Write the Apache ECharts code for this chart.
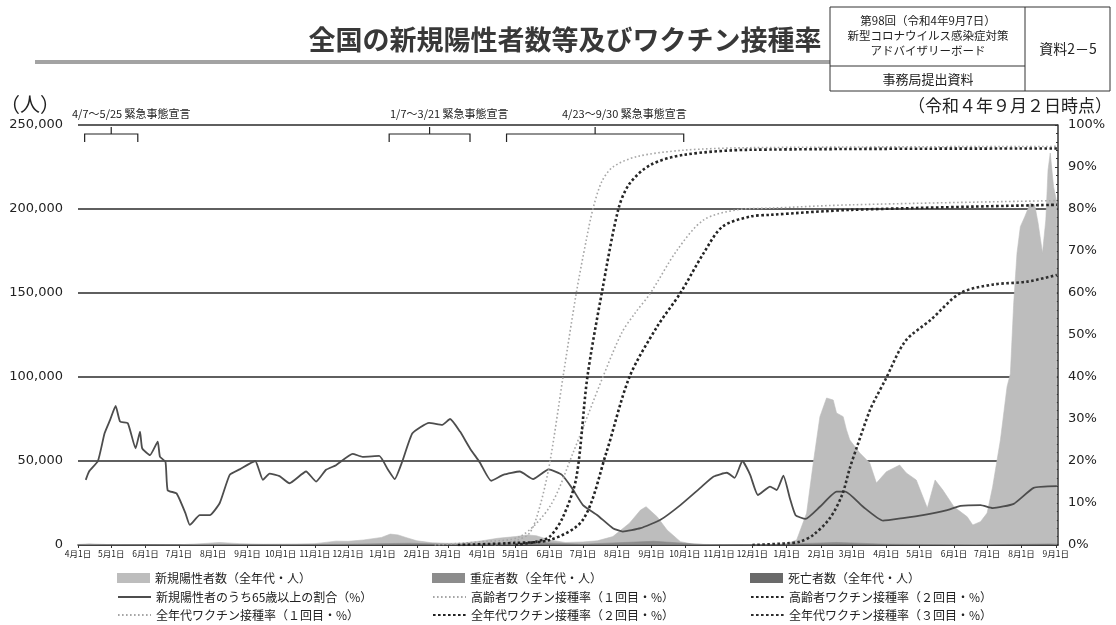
<!DOCTYPE html>
<html><head><meta charset="utf-8">
<script src="https://cdn.jsdelivr.net/npm/echarts@6/dist/echarts.min.js"></script>
<style>html,body{margin:0;padding:0;background:#fff}#c{width:1116px;height:625px}</style>
</head><body><div id="c"></div><script>
// ---- data ----
const newCases = [['2020-04-01',300],['2020-04-11',700],['2020-05-01',200],['2020-06-01',40],['2020-07-01',150],['2020-07-20',700],['2020-08-07',1500],['2020-08-25',800],['2020-09-15',500],['2020-10-15',600],['2020-11-01',800],['2020-11-20',2300],['2020-12-01',2200],['2020-12-15',3000],['2020-12-31',4500],['2021-01-08',6500],['2021-01-15',6000],['2021-01-22',4500],['2021-02-01',2500],['2021-02-15',1300],['2021-03-01',1000],['2021-03-15',1200],['2021-04-01',2500],['2021-04-15',4000],['2021-05-01',5000],['2021-05-12',6000],['2021-05-20',5500],['2021-06-01',3000],['2021-06-15',1500],['2021-07-01',1800],['2021-07-14',2500],['2021-07-28',5000],['2021-08-12',13000],['2021-08-22',20800],['2021-08-27',22800],['2021-09-06',16800],['2021-09-15',8900],['2021-09-27',2000],['2021-10-08',500],['2021-11-01',200],['2021-12-01',120],['2021-12-31',500],['2022-01-10',3000],['2022-01-19',19000],['2022-01-25',48800],['2022-01-31',76400],['2022-02-06',87500],['2022-02-12',86300],['2022-02-15',78600],['2022-02-21',76400],['2022-02-24',68500],['2022-02-27',62500],['2022-03-08',54800],['2022-03-17',48800],['2022-03-23',36900],['2022-04-01',43600],['2022-04-13',47600],['2022-04-19',42900],['2022-04-28',38700],['2022-05-08',22000],['2022-05-15',38700],['2022-05-22',32700],['2022-06-01',22800],['2022-06-13',16800],['2022-06-18',11900],['2022-06-25',13900],['2022-07-01',19000],['2022-07-06',34700],['2022-07-13',62500],['2022-07-19',94200],['2022-07-22',102000],['2022-07-25',144000],['2022-07-28',173800],['2022-07-31',189500],['2022-08-04',195400],['2022-08-09',203600],['2022-08-13',202400],['2022-08-16',191700],['2022-08-20',173800],['2022-08-23',193500],['2022-08-25',223200],['2022-08-27',233300],['2022-08-30',213300],['2022-09-02',203600]];
const severe = [['2020-04-01',100],['2020-05-01',320],['2020-06-01',100],['2020-07-01',40],['2020-08-20',260],['2020-10-01',150],['2020-12-01',500],['2021-01-25',1040],['2021-03-10',350],['2021-05-25',1400],['2021-07-01',500],['2021-09-03',2200],['2021-10-20',200],['2021-12-10',50],['2022-02-15',1500],['2022-04-01',500],['2022-06-20',60],['2022-08-25',630],['2022-09-02',590]];
const deaths = [['2020-04-01',5],['2020-05-01',30],['2020-06-01',5],['2020-08-25',15],['2020-12-20',50],['2021-01-27',110],['2021-03-15',30],['2021-05-20',110],['2021-07-15',10],['2021-09-05',60],['2021-11-01',2],['2022-02-20',270],['2022-04-15',50],['2022-07-01',10],['2022-08-27',320],['2022-09-02',250]];
const ratio65 = [['2020-04-08',15.5],['2020-04-11',17.5],['2020-04-19',20],['2020-04-25',26.6],['2020-04-30',29.8],['2020-05-05',33.1],['2020-05-09',29.4],['2020-05-16',29],['2020-05-23',23],['2020-05-27',27],['2020-05-29',23],['2020-06-05',21.4],['2020-06-12',24.6],['2020-06-14',21],['2020-06-19',19.8],['2020-06-21',13],['2020-06-29',12.3],['2020-07-07',7.6],['2020-07-11',4.8],['2020-07-20',7.1],['2020-07-29',7.1],['2020-08-07',10],['2020-08-16',16.7],['2020-08-25',18],['2020-09-08',20],['2020-09-15',15.5],['2020-09-21',17],['2020-09-30',16.4],['2020-10-09',14.7],['2020-10-24',17.5],['2020-11-02',15.1],['2020-11-11',17.9],['2020-11-20',19],['2020-12-05',21.7],['2020-12-14',21],['2020-12-29',21.2],['2021-01-06',17.9],['2021-01-12',15.7],['2021-01-19',20],['2021-01-28',26.6],['2021-02-12',29.1],['2021-02-24',28.6],['2021-03-03',30],['2021-03-12',27],['2021-03-21',23],['2021-03-30',19.6],['2021-04-09',15.3],['2021-04-20',16.7],['2021-05-05',17.5],['2021-05-17',15.7],['2021-05-31',18],['2021-06-12',16.7],['2021-06-21',13.6],['2021-07-01',9.5],['2021-07-14',7.1],['2021-07-28',4],['2021-08-06',3.2],['2021-08-22',4],['2021-09-09',6],['2021-09-27',9.5],['2021-10-15',13.6],['2021-10-27',16.3],['2021-11-08',17.2],['2021-11-15',16],['2021-11-22',20],['2021-11-29',16.7],['2021-12-06',11.9],['2021-12-17',13.9],['2021-12-23',13.1],['2021-12-29',16.5],['2022-01-04',11],['2022-01-09',7.1],['2022-01-18',6.2],['2022-01-31',9.1],['2022-02-15',12.7],['2022-02-23',12.7],['2022-03-11',9.1],['2022-03-29',5.8],['2022-04-16',6.4],['2022-05-04',7.1],['2022-05-26',8.3],['2022-06-07',9.3],['2022-06-25',9.5],['2022-07-06',8.8],['2022-07-25',9.8],['2022-08-12',13.6],['2022-09-02',14]];
const elderly1 = [['2021-04-12',0],['2021-05-01',1],['2021-05-14',2.9],['2021-05-23',9.1],['2021-06-01',19.5],['2021-06-13',40],['2021-06-25',60],['2021-07-04',72.6],['2021-07-10',80],['2021-07-18',86.5],['2021-07-28',90],['2021-08-19',92.5],['2021-09-30',94],['2021-11-29',94.6],['2022-09-02',94.9]];
const elderly2 = [['2021-05-01',0],['2021-05-20',0.8],['2021-06-01',2],['2021-06-13',6.7],['2021-06-25',16],['2021-07-05',40],['2021-07-18',60],['2021-08-02',80],['2021-08-12',86],['2021-08-31',90.5],['2021-09-30',92.9],['2021-11-29',94.1],['2022-09-02',94.4]];
const all1 = [['2021-02-17',0],['2021-04-01',0.8],['2021-05-05',2],['2021-06-01',9.1],['2021-06-22',21.9],['2021-07-19',40],['2021-08-05',50.5],['2021-08-17',55.2],['2021-08-31',60],['2021-09-24',70.2],['2021-10-18',77.4],['2021-11-17',79.8],['2021-12-17',80.2],['2022-03-01',81],['2022-09-02',82]];
const all2 = [['2021-03-10',0],['2021-05-01',0.5],['2021-06-01',1.2],['2021-07-01',6],['2021-07-22',21.9],['2021-08-12',40],['2021-09-06',52],['2021-09-27',60],['2021-10-18',69.5],['2021-11-04',75.8],['2021-11-29',78.2],['2021-12-17',78.6],['2022-03-01',79.8],['2022-09-02',81]];
const all3 = [['2021-12-01',0],['2022-01-01',0.4],['2022-01-13',0.8],['2022-01-25',2.4],['2022-02-09',6.4],['2022-02-20',11.9],['2022-02-27',18.3],['2022-03-06',23.8],['2022-03-17',32],['2022-03-23',35.3],['2022-03-31',39.3],['2022-04-18',48.5],['2022-05-11',53.6],['2022-06-07',60],['2022-07-06',62],['2022-08-06',62.7],['2022-09-02',64.3]];
const declarations = [['2020-04-07','2020-05-25','4/7～5/25 緊急事態宣言'],['2021-01-07','2021-03-21','1/7～3/21 緊急事態宣言'],['2021-04-23','2021-09-30','4/23～9/30 緊急事態宣言']];
const leftTicks = {min:0, max:250000, interval:50000};
const rightTicks = {min:0, max:100, interval:10};
const seriesNames = ['新規陽性者数（全年代・人）','重症者数（全年代・人）','死亡者数（全年代・人）','新規陽性者のうち65歳以上の割合（%）','高齢者ワクチン接種率（１回目・%）','高齢者ワクチン接種率（２回目・%）','全年代ワクチン接種率（１回目・%）','全年代ワクチン接種率（２回目・%）','全年代ワクチン接種率（３回目・%）'];

// ---- chart ----
const JP = '"Noto Sans CJK JP","Noto Sans",sans-serif';
const NUM = '"DejaVu Sans",sans-serif';
const chart = echarts.init(document.getElementById('c'));
const DAY = 86400000;
const areaSeries = (name, data, color, z) => ({
  name, type:'line', data, yAxisIndex:0, showSymbol:false, symbol:'none', z,
  lineStyle:{color, width:0.6}, itemStyle:{color}, areaStyle:{color, opacity:1}
});
const lineSeries = (name, data, color, width, dash, smooth, z) => ({
  name, type:'line', data, yAxisIndex:1, showSymbol:false, symbol:'none', smooth, z,
  lineStyle:{color, width, type:dash, cap:'butt'}, itemStyle:{color}
});
const legendPos = [[117,572],[432,572],[750,572],[117,591],[432,591],[750,591],[117,609],[432,609],[750,609]];
const legends = seriesNames.map((n,i)=>({
  left: legendPos[i][0], top: legendPos[i][1], itemWidth:33, itemHeight:10, itemGap:6,
  selectedMode:false, padding:0,
  textStyle:{fontFamily:JP, fontSize:12, color:'#222'},
  data:[i<3 ? {name:n, icon:'rect'} : {name:n, itemStyle:{color:'rgba(0,0,0,0)', borderWidth:0, opacity:0}}]
}));
chart.setOption({
  animation:false,
  backgroundColor:'#fff',
  grid:{left:78, right:58, top:125, bottom:80},
  legend: legends,
  xAxis:{
    type:'time', min:'2020-04-01', max:'2022-09-03',
    minInterval:28*DAY, maxInterval:31*DAY,
    axisLine:{lineStyle:{color:'#333', width:1.5}},
    axisTick:{show:true, length:3, lineStyle:{color:'#333'}},
    splitLine:{show:false},
    axisLabel:{fontFamily:JP, fontSize:8.5, color:'#222', margin:5,
      formatter:(v)=>{const d=new Date(v); return (d.getMonth()+1)+'月'+d.getDate()+'日';}}
  },
  yAxis:[
    {type:'value', min:leftTicks.min, max:leftTicks.max, interval:leftTicks.interval,
     axisLine:{show:false}, axisTick:{show:false},
     splitLine:{lineStyle:{color:'#2a2a2a', width:1.5}},
     axisLabel:{fontFamily:NUM, fontSize:13, color:'#222', margin:15,
       formatter:(v)=>v.toLocaleString('en-US')}},
    {type:'value', min:rightTicks.min, max:rightTicks.max, interval:rightTicks.interval, position:'right',
     axisLine:{show:true, lineStyle:{color:'#333', width:1.5}},
     axisTick:{show:true, length:3, inside:true, lineStyle:{color:'#333'}},
     minorTick:{show:true, splitNumber:5, length:2, lineStyle:{color:'#333'}},
     splitLine:{show:false},
     axisLabel:{fontFamily:NUM, fontSize:13, color:'#222', margin:10, formatter:'{value}%'}}
  ],
  series:[
    areaSeries(seriesNames[0], newCases, '#bdbdbd', 2),
    areaSeries(seriesNames[1], severe, '#8c8c8c', 3),
    areaSeries(seriesNames[2], deaths, '#6a6a6a', 4),
    lineSeries(seriesNames[3], ratio65, '#4d4d4d', 1.8, 'solid', 0.15, 5),
    lineSeries(seriesNames[4], elderly1, '#a6a6a6', 1.6, [1.6,2.4], 0.3, 6),
    lineSeries(seriesNames[5], elderly2, '#262626', 2.6, [2.6,2.4], 0.3, 7),
    lineSeries(seriesNames[6], all1, '#a6a6a6', 1.6, [1.6,2.4], 0.3, 6),
    lineSeries(seriesNames[7], all2, '#222', 2.6, [2.6,2.4], 0.3, 7),
    lineSeries(seriesNames[8], all3, '#2e2e2e', 2.6, [2.6,2.4], 0.3, 7)
  ]
});

// ---- decorations ----
const g = [];
const txt = (text, x, y, size, opts={}) => g.push({type:'text', x, y, z:100, silent:true,
  style:Object.assign({text, font:(opts.bold?'bold ':'')+size+'px '+JP, fill:opts.fill||'#222',
    textAlign:opts.align||'left', textVerticalAlign:'middle'}, opts.style||{})});
const line = (x1,y1,x2,y2,c='#333',w=1) => g.push({type:'line', z:100, silent:true, shape:{x1,y1,x2,y2}, style:{stroke:c, lineWidth:w}});
txt('全国の新規陽性者数等及びワクチン接種率', 565, 40, 27, {bold:true, fill:'#383838', align:'center'});
g.push({type:'rect', z:100, silent:true, shape:{x:35, y:60, width:795, height:4}, style:{fill:'#a3a3a3'}});
// header box
line(830,7,1110,7); line(830,91,1110,91); line(830,7,830,91); line(1110,7,1110,91);
line(1025,7,1025,91); line(830,66,1025,66);
txt('第98回（令和4年9月7日）', 928, 21, 11.5, {align:'center'});
txt('新型コロナウイルス感染症対策', 928, 36, 11.5, {align:'center'});
txt('アドバイザリーボード', 928, 51, 11.5, {align:'center'});
txt('事務局提出資料', 928, 79, 13, {align:'center'});
txt('資料2－5', 1068, 49, 14, {align:'center'});
txt('（人）', 0, 104, 20);
txt('（令和４年９月２日時点）', 1112, 106, 17, {align:'right'});
const declTextX = [72, 390, 562];
declarations.forEach((d,i)=>{
  const x1 = chart.convertToPixel({xAxisIndex:0}, echarts.number.parseDate(d[0]).getTime());
  const x2 = chart.convertToPixel({xAxisIndex:0}, echarts.number.parseDate(d[1]).getTime());
  const mid = (x1+x2)/2;
  g.push({type:'polyline', z:100, silent:true, shape:{points:[[x1,142],[x1,134],[x2,134],[x2,142]]}, style:{stroke:'#222', lineWidth:1.2, fill:null}});
  line(mid,134,mid,127,'#222',1.2);
  txt(d[2], declTextX[i], 114, 11);
});
chart.setOption({graphic:g});
</script></body></html>
